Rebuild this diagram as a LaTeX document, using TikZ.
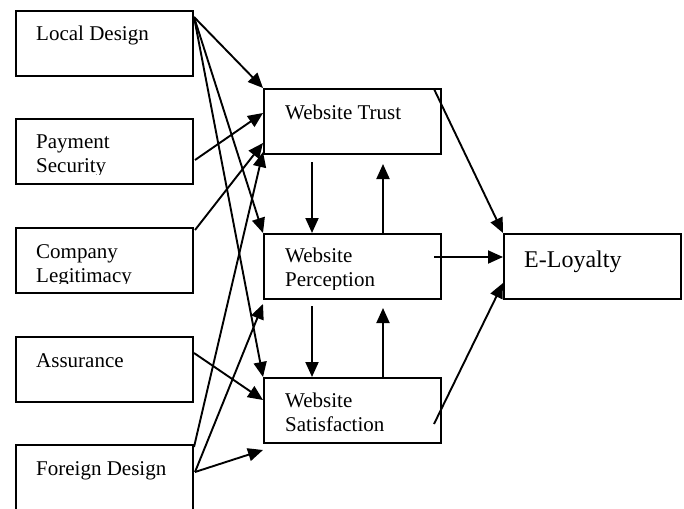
\documentclass[tikz,border=0pt]{standalone}
\usepackage{fontspec}
\setmainfont{Liberation Serif}
\usetikzlibrary{positioning,calc,arrows.meta}

\begin{document}
\begin{tikzpicture}
                    [x=1pt,y=-1pt,>={Triangle[length=15pt,width=13pt]},
                     box/.style={draw,line width=2pt,minimum width=177pt,minimum height=65pt,inner sep=0pt,anchor=north west},
                     label/.style={anchor=base west,inner sep=0pt,align=left,font=\fontsize{21}{24}\selectfont},
                     link/.style={->,line width=1.9pt}]

                    \useasboundingbox (0,0) rectangle (684,508);

                    % left side
                    \node[box] (ld) at (15,10) {};
                    \node[box] (ps) at (15,118) {};
                    \node[box] (cl) at (15,227) {};
                    \node[box] (as) at (15,336) {};
                    \node[box,minimum height=80pt] (fd) at (15,444) {};

                    % middle and right
                    \node[box] (wt) at (263,88) {};
                    \node[box] (wp) at (263,233) {};
                    \node[box] (ws) at (263,377) {};
                    \node[box] (el) at (503,233) {};

                    \node[label] (ldt) at ($(ld.north west)+(21,31)$) {Local Design};
                    \node[label] (ast) at ($(as.north west)+(21,31)$) {Assurance};
                    \node[label] (fdt) at ($(fd.north west)+(21,31)$) {Foreign Design};
                    \node[label] (wtt) at ($(wt.north west)+(22,31)$) {Website Trust};
                    \node[label,font=\fontsize{24}{28}\selectfont] (elt) at ($(el.north west)+(21,34)$) {E-Loyalty};

                    % two-line texts, cut at the foot of their box
                    \begin{scope}
                        \clip (ps.north west) rectangle ($(ps.south east)+(0,-10.5)$);
                        \node[label] (pst) at ($(ps.north west)+(21,54)$) {Payment\\Security};
                    \end{scope}
                    \begin{scope}
                        \clip (cl.north west) rectangle ($(cl.south east)+(0,-10.5)$);
                        \node[label] (clt) at ($(cl.north west)+(21,55)$) {Company\\Legitimacy};
                    \end{scope}
                    \begin{scope}
                        \clip (wp.north west) rectangle ($(wp.south east)+(0,-10.5)$);
                        \node[label] (wpt) at ($(wp.north west)+(22,53)$) {Website\\Perception};
                    \end{scope}
                    \begin{scope}
                        \clip (ws.north west) rectangle ($(ws.south east)+(0,-10.5)$);
                        \node[label] (wst) at ($(ws.north west)+(22,54)$) {Website\\Satisfaction};
                    \end{scope}

                    % arrows from the left
                    \draw[link] ($(ld.north east)+(0,7)$) -- (wt.north west);
                    \draw[link] ($(ld.north east)+(0,7)$) -- (wp.north west);
                    \draw[link] ($(ld.north east)+(0,7)$) -- (ws.north west);
                    \draw[link] ($(ps.north east)+(1,42)$) -- ($(wt.north west)+(0,25)$);
                    \draw[link] ($(cl.north east)+(1,3)$) -- ($(wt.north west)+(0,55)$);
                    \draw[link] ($(as.north east)+(0,17)$) -- ($(ws.north west)+(0,23)$);
                    \draw[link] ($(fd.north east)+(0,3)$) -- ($(wt.south west)+(0,-3)$);
                    \draw[link] ($(fd.north east)+(1,28)$) -- ($(wp.south west)+(0,4)$);
                    \draw[link] ($(fd.north east)+(1,28)$) -- ($(ws.south west)+(0,6)$);

                    % between the middle boxes
                    \draw[link] ($(wt.south west)+(49,7)$) -- ($(wp.north west)+(49,0)$);
                    \draw[link] ($(wp.north west)+(120,0)$) -- ($(wt.south west)+(120,9)$);
                    \draw[link] ($(wp.south west)+(49,6)$) -- ($(ws.north west)+(49,0)$);
                    \draw[link] ($(ws.north west)+(120,0)$) -- ($(wp.south west)+(120,8)$);

                    % to E-Loyalty
                    \draw[link] ($(wt.north east)+(-8,1)$) -- (el.north west);
                    \draw[link] ($(wp.north east)+(-8,24)$) -- ($(el.north west)+(0,24)$);
                    \draw[link] ($(ws.north east)+(-8,47)$) -- ($(el.north west)+(0,50)$);

                \end{tikzpicture}
\end{document}
